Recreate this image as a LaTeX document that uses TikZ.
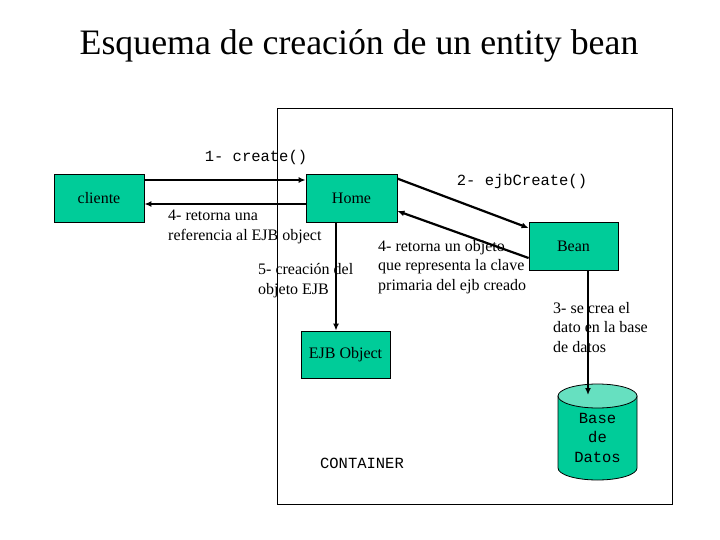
\documentclass[tikz,border=0pt]{standalone}
\usepackage{fontspec}
\setmainfont{Liberation Serif}
\newfontfamily\cour{Liberation Mono}
\usetikzlibrary{arrows.meta}
\definecolor{tealbox}{RGB}{0,204,153}
\definecolor{tealtop}{RGB}{102,224,192}
\tikzset{
  box/.style={draw=black, line width=0.8pt, fill=tealbox, minimum width=90pt, minimum height=48pt, inner sep=0pt, font=\fontsize{16}{18}\selectfont},
  arr/.style={line width=2.2pt, -{Latex[length=7pt,width=6pt]}},
  lbl/.style={align=left, inner sep=0pt, font=\fontsize{16}{19.5}\selectfont},
  mono/.style={inner sep=0pt, font=\cour\fontsize{15.5}{19.5}\selectfont},
}
\begin{document}
\begin{tikzpicture}[x=1pt,y=-1pt]
\useasboundingbox (0,0) rectangle (720,540);
% title
\node[inner sep=0pt, font=\fontsize{35.8}{40}\selectfont] (title) at (359,46) {Esquema de creación de un entity bean};
% container
\draw[line width=0.8pt] (277,108) rectangle (672,504);
\node[mono] (cont) at (362,463) {CONTAINER};
% boxes
\node[box] (cliente) at (99,198) {cliente};
\node[box, minimum width=91pt] (home) at (351.5,198) {Home};
\node[box, minimum width=89pt, minimum height=47pt] (ejb) at (345.5,354.5) {EJB Object};
\node[box, minimum width=89pt] (bean) at (573.5,246) {Bean};
% database cylinder
\filldraw[fill=tealbox, draw=black, line width=0.8pt] (637,396) -- (637,468) arc[start angle=0, end angle=-180, x radius=39.5pt, y radius=12pt] -- (558,396) -- cycle;
\filldraw[fill=tealtop, draw=black, line width=0.8pt] (597.5,396) ellipse [x radius=39.5pt, y radius=12pt];
\node[mono, align=center] (db) at (597.5,437.5) {Base\\de\\Datos};
\coordinate (dbtop) at (588,395);
% labels
\node[mono] (l1) at (256,157) {1- create()};
\node[mono] (l2) at (522,181) {2- ejbCreate()};
\node[lbl, anchor=west] (l4a) at (168,227) {4- retorna una\\referencia al EJB object};
\node[lbl, anchor=west] (l5) at (258,280.5) {5- creación del\\objeto EJB};
\node[lbl, anchor=west] (l4b) at (378,267) {4- retorna un objeto\\que representa la clave\\primaria del ejb creado};
\node[lbl, anchor=west] (l3) at (553,327.5) {3- se crea el\\dato en la base\\de datos};
% connectors
\draw[arr] ([yshift=18pt]cliente.east) -- ([yshift=18pt]home.west);
\draw[arr] ([yshift=-6pt]home.west) -- ([yshift=-6pt]cliente.east);
\draw[arr] ([yshift=-5pt]home.north east) -- ([yshift=18pt]bean.west);
\draw[arr] ([yshift=-12pt]bean.west) -- ([yshift=-13pt]home.east);
\draw[arr] ([xshift=-15.5pt]home.south) -- ([xshift=-15.5pt]home.south |- ejb.north);
\draw[arr] ([xshift=14.5pt]bean.south) -- (dbtop);
\end{tikzpicture}
\end{document}
